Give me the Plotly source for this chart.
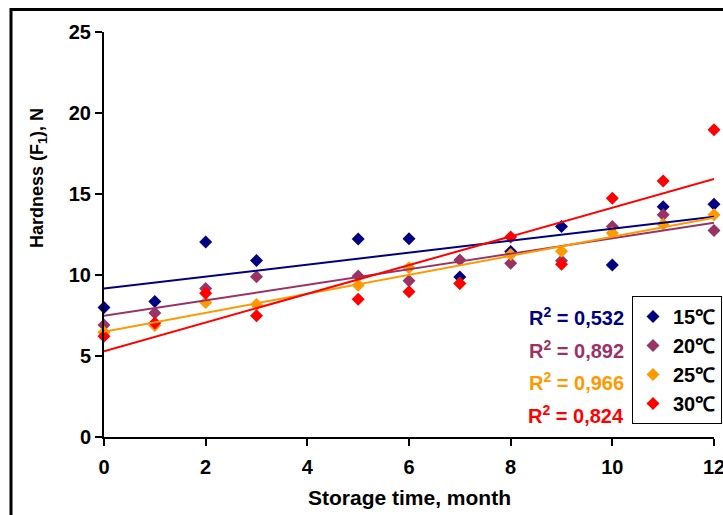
import numpy as np
import plotly.graph_objects as go

months = [0, 1, 2, 3, 5, 6, 7, 8, 9, 10, 11, 12]
series_names = ["15℃", "20℃", "25℃", "30℃"]
hard_15 = [8.0, 8.37, 12.04, 10.9, 12.22, 12.24, 9.87, 11.45, 13.0, 10.61, 14.22, 14.37]
hard_20 = [6.92, 7.65, 9.16, 9.89, 9.94, 9.65, 10.93, 10.72, 10.88, 13.0, 13.72, 12.74]
hard_25 = [6.47, 6.88, 8.3, 8.18, 9.37, 10.45, 9.47, 11.27, 11.47, 12.59, 13.14, 13.72]
hard_30 = [6.22, 7.04, 8.88, 7.49, 8.51, 8.97, 9.48, 12.34, 10.67, 14.73, 15.8, 18.96]
r2_labels = ["0,532", "0,892", "0,966", "0,824"]
x_ticks = [0, 2, 4, 6, 8, 10, 12]
y_ticks = [0, 5, 10, 15, 20, 25]

colors = ["#000080", "#993366", "#FF9900", "#FF0000"]
all_series = [hard_15, hard_20, hard_25, hard_30]
FONT = "Liberation Sans, Arial, sans-serif"

fig = go.Figure()
for name, vals, col in zip(series_names, all_series, colors):
    fig.add_trace(go.Scatter(
        x=months, y=vals, mode="markers", name=name,
        marker=dict(symbol="diamond", size=10, color=col),
        cliponaxis=False,
    ))
for vals, col in zip(all_series, colors):
    k, b = np.polyfit(months, vals, 1)
    xs = [0, 12]
    fig.add_trace(go.Scatter(
        x=xs, y=[k * v + b for v in xs], mode="lines", showlegend=False,
        line=dict(color=col, width=2), hoverinfo="skip", cliponaxis=False,
    ))

# geometry in window pixels (page margin removed by post_script)
L, R, T, B = 104, 714, 32, 437
W, H = 723, 515
def px(xp):
    return (xp - L) / (R - L)
def py(yp):
    return (B - yp) / (B - T)

annotations = []
for i, (lab, col) in enumerate(zip(r2_labels, colors)):
    annotations.append(dict(
        xref="paper", yref="paper", x=px(626), y=py([316, 349, 381, 414][i]),
        xanchor="right", yanchor="middle", showarrow=False,
        text=f"<b>R<sup>2</sup> = {lab}</b>",
        font=dict(family=FONT, size=20, color=col),
    ))
annotations.append(dict(
    xref="paper", yref="paper", x=px(409), y=py(497), xanchor="center", yanchor="middle",
    showarrow=False, text="<b>Storage time, month</b>",
    font=dict(family=FONT, size=21, color="black"),
))
annotations.append(dict(
    xref="paper", yref="paper", x=px(38), y=py(178), xanchor="center", yanchor="middle",
    showarrow=False, textangle=-90, text="<b>Hardness (F<sub>1</sub>), N</b>",
    font=dict(family=FONT, size=18, color="black"),
))

shapes = [
    dict(type="line", xref="paper", yref="paper", x0=px(11), x1=px(730), y0=py(9.5), y1=py(9.5),
         line=dict(color="black", width=3)),
    dict(type="line", xref="paper", yref="paper", x0=px(11), x1=px(11), y0=py(8), y1=py(530),
         line=dict(color="black", width=3)),
]

fig.update_layout(
    width=W, height=H,
    margin=dict(l=L, r=W - R, t=T, b=H - B, autoexpand=False),
    paper_bgcolor="white", plot_bgcolor="white",
    font=dict(family=FONT, color="black"),
    showlegend=True,
    legend=dict(
        x=px(722), y=py(296), xanchor="right", yanchor="top",
        bordercolor="black", borderwidth=1, bgcolor="white",
        font=dict(family=FONT, size=20, color="black", weight="bold"),
        itemwidth=30, tracegroupgap=0,
    ),
    xaxis=dict(
        range=[0, 12], tickvals=x_ticks, showgrid=False, zeroline=False,
        showline=True, linecolor="black", linewidth=2,
        ticks="outside", ticklen=7, tickwidth=2, tickcolor="black",
        ticklabelstandoff=4, ticklabeloverflow="allow",
        tickfont=dict(family=FONT, size=20, color="black", weight="bold"),
    ),
    yaxis=dict(
        range=[0, 25], tickvals=y_ticks, showgrid=False, zeroline=False,
        showline=True, linecolor="black", linewidth=2,
        ticks="outside", ticklen=7, tickwidth=2, tickcolor="black",
        tickfont=dict(family=FONT, size=20, color="black", weight="bold"),
    ),
    annotations=annotations,
    shapes=shapes,
)

fig.write_html(
    "out.html",
    config={"displayModeBar": False},
    post_script="document.body.style.margin='0px';document.body.style.overflow='hidden';",
)
